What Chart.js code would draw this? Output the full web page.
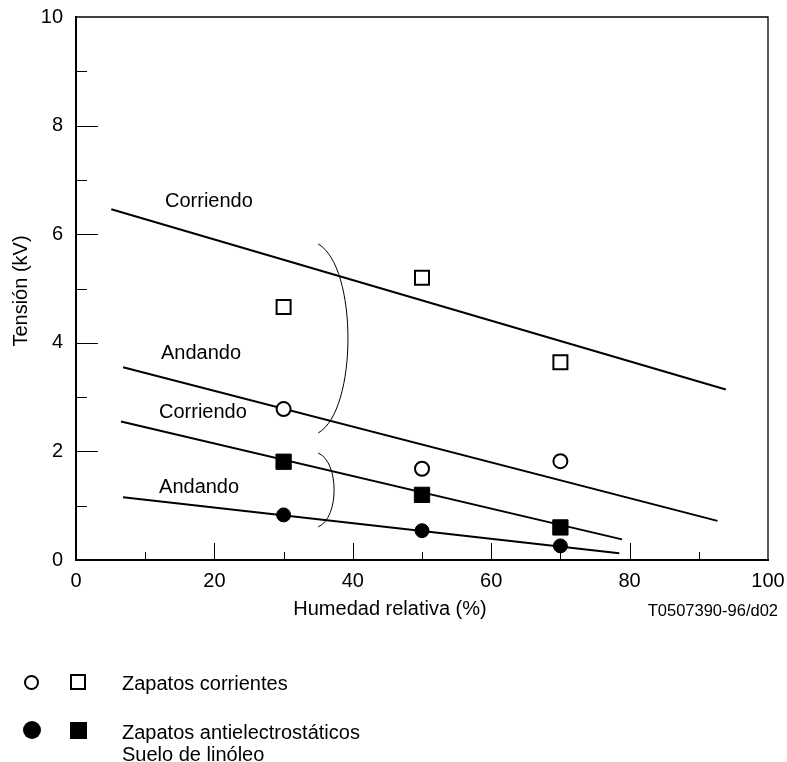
<!DOCTYPE html>
<html><head><meta charset="utf-8">
<script src="https://cdn.jsdelivr.net/npm/chart.js@4.4.1/dist/chart.umd.min.js"></script>
<style>
html,body{margin:0;padding:0;background:#fff;}
#wrap{position:relative;width:787px;height:762px;overflow:hidden;font-family:"Liberation Sans",Arial,Helvetica,sans-serif;color:#000;}
canvas{position:absolute;left:0;top:0;}
.t{position:absolute;font-size:20px;line-height:22px;white-space:nowrap;}
.m{position:absolute;box-sizing:border-box;}
</style></head><body>
<div id="wrap">
<canvas id="c" width="787" height="762"></canvas>
<div class="m" style="left:24px;top:675px;width:15px;height:15px;border:2px solid #000;border-radius:50%;background:#fff;"></div>
<div class="m" style="left:70px;top:673.5px;width:16px;height:16px;border:2px solid #000;background:#fff;"></div>
<div class="m" style="left:22.7px;top:721px;width:18px;height:18px;border-radius:50%;background:#000;"></div>
<div class="m" style="left:69.5px;top:721.5px;width:17px;height:17px;background:#000;"></div>
<div class="t" style="left:122px;top:672px;">Zapatos corrientes</div>
<div class="t" style="left:122px;top:720.5px;line-height:22.5px;">Zapatos antielectrostáticos<br>Suelo de linóleo</div>
<div class="t" style="right:9px;top:600px;font-size:16.5px;line-height:20px;">T0507390-96/d02</div>
</div>
<script>
// ---- data ----
const xTickValues = [0, 20, 40, 60, 80, 100];
const yTickValues = [0, 2, 4, 6, 8, 10];
const xMinorTicks = [10, 30, 50, 70, 90];
const yMinorTicks = [1, 3, 5, 7, 9];

const humidity = [30, 50, 70];
const regularRunning = [4.66, 5.20, 3.64];   // open squares
const regularWalking = [2.78, 1.68, 1.82];   // open circles
const antiRunning = [1.81, 1.20, 0.60];      // filled squares
const antiWalking = [0.83, 0.54, 0.26];      // filled circles

const fitRegRunX = [5.1, 93.9],  fitRegRunY = [6.46, 3.14];
const fitRegWalkX = [6.8, 92.7], fitRegWalkY = [3.55, 0.72];
const fitAntiRunX = [6.5, 78.9], fitAntiRunY = [2.55, 0.38];
const fitAntiWalkX = [6.8, 78.5], fitAntiWalkY = [1.155, 0.123];

const lineLabels = ['Corriendo', 'Andando', 'Corriendo', 'Andando'];
const lineLabelX = [12.86, 12.28, 12.0, 12.0];
const lineLabelY = [6.61, 3.81, 2.71, 1.33];

const bracketX = [35, 35];
const bracketTop = [5.82, 1.97];
const bracketBottom = [2.34, 0.61];
const bracketPeak = [39.3, 37.3];

const xTitle = 'Humedad relativa (%)';
const yTitle = 'Tensión (kV)';

// ---- build ----
const pts = (xs, ys) => xs.map((x, i) => ({x, y: ys[i]}));
const FONT = '"Liberation Sans", Arial, Helvetica, sans-serif';

const lineDS = (xs, ys) => ({
  type: 'line', data: pts(xs, ys), showLine: true, borderColor: '#000', borderWidth: 2,
  pointRadius: 0, fill: false, order: 2, tension: 0
});
const pointDS = (ys, style, r, filled) => ({
  type: 'scatter', data: pts(humidity, ys), showLine: false, pointStyle: style,
  pointRadius: r, pointBorderWidth: filled ? 1 : 2, pointBorderColor: '#000',
  pointBackgroundColor: filled ? '#000' : '#fff', order: 1
});

const decor = {
  id: 'decor',
  afterDraw(chart) {
    const {ctx, chartArea: a, scales: {x, y}} = chart;
    ctx.save();
    ctx.strokeStyle = '#000';
    // top & right frame
    ctx.lineWidth = 1.3;
    ctx.beginPath();
    ctx.moveTo(a.left, a.top); ctx.lineTo(a.right, a.top); ctx.lineTo(a.right, a.bottom);
    ctx.stroke();
    // inner ticks
    ctx.lineWidth = 1;
    ctx.beginPath();
    xTickValues.filter(v => v > x.min && v < x.max).forEach(v => {
      const p = Math.round(x.getPixelForValue(v)) + 0.5;
      ctx.moveTo(p, a.bottom); ctx.lineTo(p, a.bottom - 17);
    });
    xMinorTicks.forEach(v => {
      const p = Math.round(x.getPixelForValue(v)) + 0.5;
      ctx.moveTo(p, a.bottom); ctx.lineTo(p, a.bottom - 8);
    });
    yTickValues.filter(v => v > y.min && v < y.max).forEach(v => {
      const p = Math.round(y.getPixelForValue(v)) + 0.5;
      ctx.moveTo(a.left, p); ctx.lineTo(a.left + 22, p);
    });
    yMinorTicks.forEach(v => {
      const p = Math.round(y.getPixelForValue(v)) + 0.5;
      ctx.moveTo(a.left, p); ctx.lineTo(a.left + 11, p);
    });
    ctx.stroke();
    // brackets
    ctx.lineWidth = 1;
    bracketX.forEach((bx, i) => {
      const x0 = x.getPixelForValue(bx);
      const xp = x.getPixelForValue(bracketPeak[i]);
      const yt = y.getPixelForValue(bracketTop[i]);
      const yb = y.getPixelForValue(bracketBottom[i]);
      const xc = x0 + (xp - x0) * 4 / 3;
      const h = yb - yt;
      ctx.beginPath();
      ctx.moveTo(x0, yt);
      ctx.bezierCurveTo(xc, yt + h * 0.12, xc, yb - h * 0.12, x0, yb);
      ctx.stroke();
    });
    // labels
    ctx.fillStyle = '#000';
    ctx.font = '20px ' + FONT;
    ctx.textAlign = 'left';
    ctx.textBaseline = 'middle';
    lineLabels.forEach((t, i) => {
      ctx.fillText(t, x.getPixelForValue(lineLabelX[i]), y.getPixelForValue(lineLabelY[i]));
    });
    // axis titles
    ctx.textAlign = 'center';
    ctx.fillText(xTitle, 390, 609);
    ctx.translate(21, 291);
    ctx.rotate(-Math.PI / 2);
    ctx.fillText(yTitle, 0, 0);
    ctx.restore();
  }
};

new Chart(document.getElementById('c'), {
  data: {
    datasets: [
      pointDS(regularRunning, 'rect', 9.9, false),
      pointDS(regularWalking, 'circle', 7, false),
      pointDS(antiRunning, 'rect', 10.8, true),
      pointDS(antiWalking, 'circle', 7, true),
      lineDS(fitRegRunX, fitRegRunY),
      lineDS(fitRegWalkX, fitRegWalkY),
      lineDS(fitAntiRunX, fitAntiRunY),
      lineDS(fitAntiWalkX, fitAntiWalkY)
    ]
  },
  options: {
    responsive: false, animation: false, devicePixelRatio: 1, events: [],
    layout: {padding: {left: 0, top: 17, right: 19, bottom: 162}},
    plugins: {legend: {display: false}, tooltip: {enabled: false}},
    scales: {
      x: {
        type: 'linear', min: 0, max: 100,
        afterBuildTicks: s => { s.ticks = xTickValues.map(v => ({value: v})); },
        afterFit: s => { s.height = 40; s.paddingLeft = 0; s.paddingRight = 0; s.paddingTop = 0; s.paddingBottom = 0; },
        ticks: {color: '#000', font: {family: FONT, size: 20}, padding: 9, maxRotation: 0, autoSkip: false},
        grid: {display: false, drawTicks: false},
        border: {display: true, color: '#000', width: 2}
      },
      y: {
        type: 'linear', min: 0, max: 10,
        afterBuildTicks: s => { s.ticks = yTickValues.map(v => ({value: v})); },
        afterFit: s => { s.width = 76; s.paddingLeft = 0; s.paddingRight = 0; s.paddingTop = 0; s.paddingBottom = 0; },
        ticks: {color: '#000', font: {family: FONT, size: 20}, padding: 13, autoSkip: false},
        grid: {display: false, drawTicks: false},
        border: {display: true, color: '#000', width: 2}
      }
    }
  },
  plugins: [decor]
});
</script>
</body></html>
